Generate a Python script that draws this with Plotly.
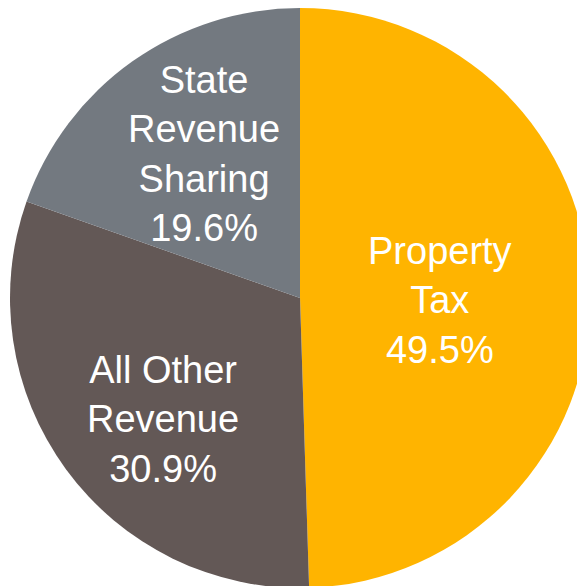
import plotly.graph_objects as go

labels = ["Property Tax", "All Other Revenue", "State Revenue Sharing"]
label_lines = ["Property<br>Tax", "All Other<br>Revenue", "State<br>Revenue<br>Sharing"]
values = [49.5, 30.9, 19.6]
colors = ["#FFB400", "#635856", "#737980"]

# hand placed label centres (paper coords), like the original
label_pos = [(0.741, 0.495), (0.264, 0.290), (0.334, 0.749)]

fig = go.Figure()
fig.add_trace(go.Pie(
    labels=labels,
    values=values,
    sort=False,
    direction="clockwise",
    rotation=0,
    marker=dict(colors=colors, line=dict(width=0)),
    textinfo="none",
    hoverinfo="label+percent",
    showlegend=False,
))

total = sum(values)
for txt, v, (px, py) in zip(label_lines, values, label_pos):
    fig.add_annotation(
        x=px, y=py, xref="paper", yref="paper",
        xanchor="center", yanchor="middle",
        text=f"{txt}<br>{v / total * 100:.1f}%",
        showarrow=False,
        font=dict(family="Liberation Sans, Arial, sans-serif", size=38, color="#FFFFFF"),
    )

# little stray mark at the bottom right of the original image
fig.add_shape(type="rect", xref="paper", yref="paper",
              x0=0.986, x1=0.990, y0=0.068, y1=0.072,
              fillcolor="black", line=dict(width=0))

fig.update_layout(
    width=585,
    height=586,
    margin=dict(l=2, r=3, t=0, b=6),
    paper_bgcolor="white",
    plot_bgcolor="white",
)

fig.write_html("out.html")
